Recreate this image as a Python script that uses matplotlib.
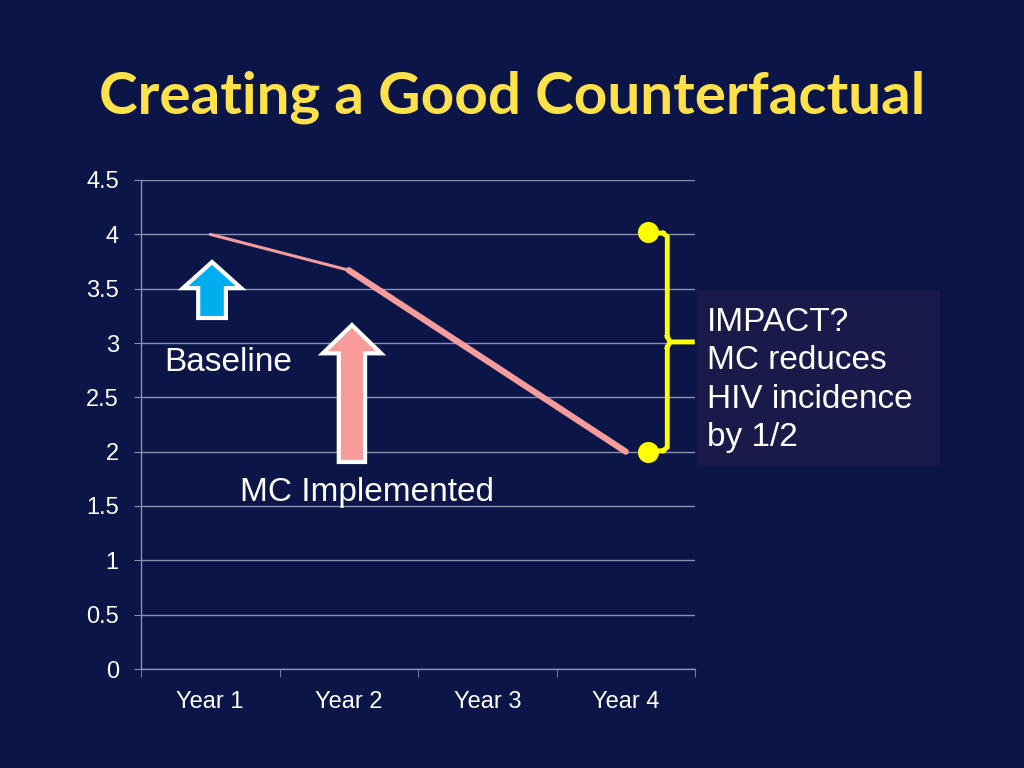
import matplotlib
matplotlib.use('Agg')
from matplotlib import pyplot as plt
from matplotlib.patches import FancyArrow, Rectangle

# chart data
categories = ['Year 1', 'Year 2', 'Year 3', 'Year 4']
baseline_x = [0, 1]
baseline_y = [4.0, 3.67]
implemented_x = [1, 3]
implemented_y = [3.67, 2.0]
yticks = [0, 0.5, 1, 1.5, 2, 2.5, 3, 3.5, 4, 4.5]
ytick_labels = ['0', '0.5', '1', '1.5', '2', '2.5', '3', '3.5', '4', '4.5']
impact_top = 4.02
impact_bottom = 2.0

bg = '#0b1548'
grid_col = '#8a90b0'
line_col = '#f59c9c'
title_col = '#ffe14a'

plt.rcParams['font.family'] = ['Liberation Sans', 'DejaVu Sans']

fig = plt.figure(figsize=(10.24, 7.68), dpi=100, facecolor=bg)
ax = fig.add_axes([141/1024, 1-669/768, 554/1024, 489/768])
ax.set_facecolor(bg)

ax.set_xlim(-0.5, 3.5)
ax.set_ylim(0, 4.5)

# grid + spines
ax.set_yticks(yticks)
ax.set_yticklabels(ytick_labels)
ax.yaxis.grid(True, color=grid_col, lw=1)
ax.set_axisbelow(True)
for s in ['top', 'right']:
    ax.spines[s].set_visible(False)
for s in ['left', 'bottom']:
    ax.spines[s].set_color(grid_col)
    ax.spines[s].set_linewidth(1)

ax.set_xticks(range(len(categories)))
ax.set_xticklabels(categories)
ax.set_xticks([-0.5, 0.5, 1.5, 2.5, 3.5], minor=True)
ax.tick_params(axis='x', which='major', length=0, pad=16, labelsize=17, labelcolor='white')
ax.tick_params(axis='x', which='minor', length=6, color=grid_col, direction='out')
ax.tick_params(axis='y', length=5, color=grid_col, pad=11, labelsize=17, labelcolor='white')

# lines
ax.plot(baseline_x, baseline_y, color=line_col, lw=2.2, solid_capstyle='round')
ax.plot(implemented_x, implemented_y, color=line_col, lw=4.5, solid_capstyle='round')

# arrows
blue = FancyArrow(0.013, 3.23, 0, 0.515, width=0.20, head_width=0.42, head_length=0.24,
                  length_includes_head=True, fc='#00aeef', ec='white', lw=3, zorder=4)
ax.add_patch(blue)
pink = FancyArrow(1.023, 1.905, 0, 1.26, width=0.19, head_width=0.42, head_length=0.26,
                  length_includes_head=True, fc='#f99b9b', ec='white', lw=3, zorder=4)
ax.add_patch(pink)

ax.text(0.13, 2.82, 'Baseline', color='white', fontsize=24, ha='center', va='center')
ax.text(1.13, 1.62, 'MC Implemented', color='white', fontsize=24, ha='center', va='center')

# impact bracket
mid = (impact_top + impact_bottom) / 2
bx = 3.30
yel = '#ffff00'
ax.plot([3.16, bx - 0.03], [impact_top, impact_top - 0.01], color=yel, lw=3.5, clip_on=False)
ax.plot([3.16, bx - 0.03], [impact_bottom, impact_bottom + 0.01], color=yel, lw=3.5, clip_on=False)
ax.plot([bx - 0.03, bx, bx], [impact_top - 0.01, impact_top - 0.04, mid + 0.05],
        color=yel, lw=3.5, clip_on=False, solid_joinstyle='round')
ax.plot([bx - 0.03, bx, bx], [impact_bottom + 0.01, impact_bottom + 0.04, mid - 0.05],
        color=yel, lw=3.5, clip_on=False, solid_joinstyle='round')
ax.plot([bx, bx + 0.02, bx + 0.18], [mid + 0.05, mid, mid], color=yel, lw=3.5, clip_on=False)
ax.plot([bx, bx + 0.02], [mid - 0.05, mid], color=yel, lw=3.5, clip_on=False)
ax.scatter([3.16, 3.16], [impact_top, impact_bottom], s=200, color=yel, zorder=5, clip_on=False)

# impact text box
fig.patches.append(Rectangle((697/1024, 1-465/768), 243/1024, 175/768,
                             transform=fig.transFigure, facecolor='#1a1a4a', edgecolor='none', zorder=0))
fig.text(707/1024, 1-380/768, 'IMPACT?\nMC reduces\nHIV incidence\nby 1/2', color='white',
         fontsize=24, ha='left', va='center', linespacing=1.3)

fig.text(0.5, 1-97/768, 'Creating a Good Counterfactual', color=title_col, fontsize=42,
         fontweight='bold', family=['Lato', 'DejaVu Sans'], ha='center', va='center')

plt.savefig('out.png', dpi=100, facecolor=bg)
